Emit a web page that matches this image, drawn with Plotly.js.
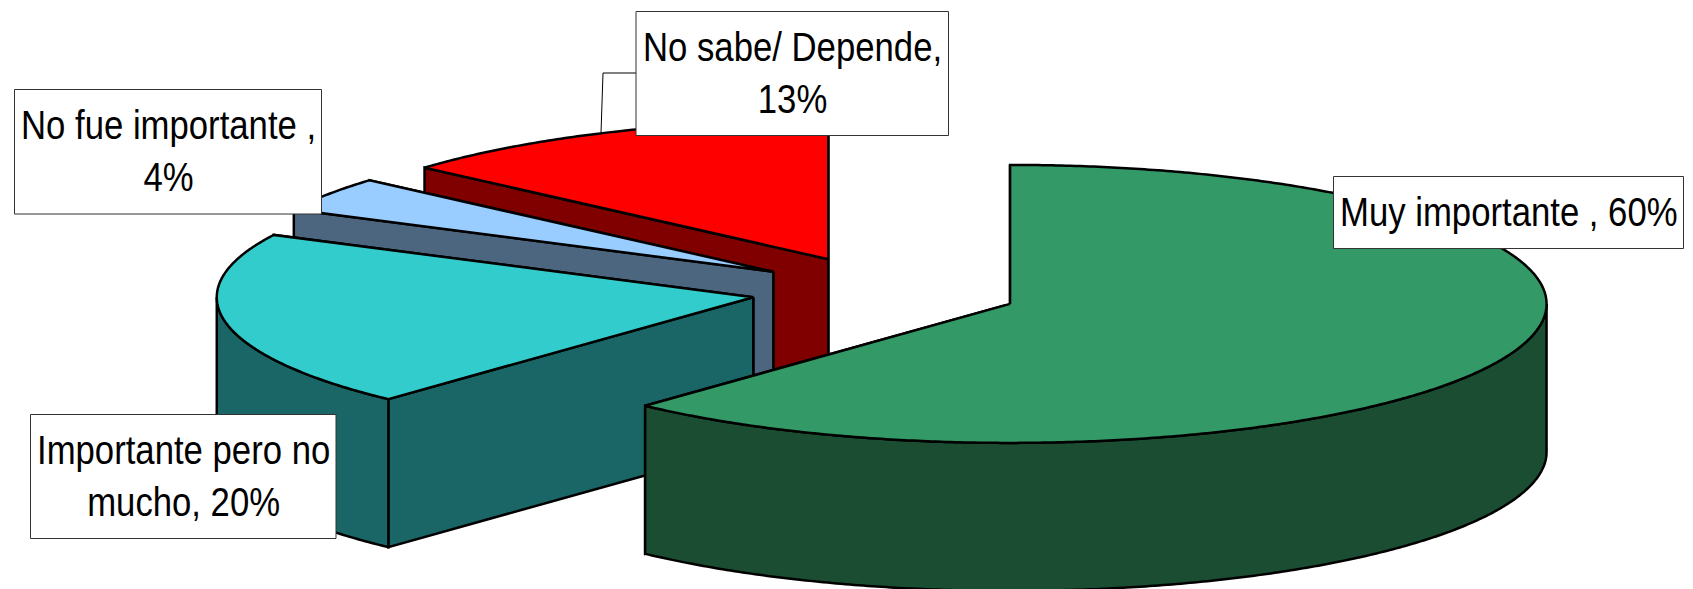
<!DOCTYPE html>
<html><head><meta charset="utf-8">
<script src="https://cdn.plot.ly/plotly-3.0.1.min.js"></script>
<style>html,body{margin:0;padding:0;background:#fff}#c{width:1693px;height:589px}
.annotation-text{transform-box:fill-box;transform-origin:center;transform:scaleX(.868)}</style>
</head><body><div id="c"></div>
<script>
const categories = ["Muy importante", "Importante pero no mucho", "No fue importante", "No sabe/ Depende"];
const values = [59.8, 19.8, 3.9, 13.1];
const explodeShare = [0.252, 0.248, 0.249, 0.252];
const topColors = ["#339966", "#33CCCC", "#99CCFF", "#FF0000"];
const sideColors = ["#1B4D33", "#1A6666", "#4D6680", "#800000"];
const labelTexts = ["Muy importante , 60%", "Importante pero no<br>mucho, 20%", "No fue importante ,<br>4%", "No sabe/ Depende,<br>13%"];

const CX = 884.2, CY = 291.1, RX = 536.5, RY = 139, DEPTH = 148;
const total = values.reduce((a, b) => a + b, 0);
const rad = d => d * Math.PI / 180;

let a0 = 0;
const slices = values.map((v, i) => {
  const a1 = a0 + v / total * 360;
  const mid = rad((a0 + a1) / 2);
  const s = {i, a0, a1, cx: CX + explodeShare[i] * RX * Math.sin(mid), cy: CY - explodeShare[i] * RY * Math.cos(mid)};
  a0 = a1;
  return s;
});
function pt(s, deg, dz) {
  return [s.cx + RX * Math.sin(rad(deg)), s.cy - RY * Math.cos(rad(deg)) + (dz || 0)];
}
function arc(s, from, to, dz) {
  const n = Math.max(2, Math.ceil(Math.abs(to - from) * 2)), out = [];
  for (let k = 0; k <= n; k++) out.push(pt(s, from + (to - from) * k / n, dz));
  return out;
}
function poly(points, fill, name) {
  const p = points.concat([points[0]]);
  return {type: "scatter", mode: "lines", x: p.map(q => q[0]), y: p.map(q => q[1]), fill: "toself",
    fillcolor: fill, line: {color: "#000", width: 2.5, simplify: false}, hoverinfo: "skip", name, showlegend: false};
}
const traces = [];
[3, 2, 1, 0].forEach(i => {
  const s = slices[i], name = categories[i], c = [s.cx, s.cy], cb = [s.cx, s.cy + DEPTH];
  const e0 = pt(s, s.a0), e1 = pt(s, s.a1);
  traces.push(poly([c, e1, pt(s, s.a1, DEPTH), cb], sideColors[i], name));
  traces.push(poly([c, e0, pt(s, s.a0, DEPTH), cb], sideColors[i], name));
  const wf = Math.max(s.a0, 90), wt = Math.min(s.a1, 270);
  if (wt > wf) traces.push(poly(arc(s, wf, wt, 0).concat(arc(s, wt, wf, DEPTH)), sideColors[i], name));
  traces.push(poly([c].concat(arc(s, s.a0, s.a1, 0)), topColors[i], name));
});

// leader of the "No sabe" label
traces.push({type: "scatter", mode: "lines", x: [636, 603, 601], y: [73, 73, 133],
  line: {color: "#000", width: 1}, hoverinfo: "skip", showlegend: false});

const boxes = [
  [1333.5, 176.5, 1683.5, 248.5],
  [30.5, 414.5, 336, 538.5],
  [14.5, 89.5, 321.5, 214],
  [636, 11.5, 948.5, 135.5]
];
const shapes = boxes.map(b => ({type: "rect", layer: "above", xref: "x", yref: "y", x0: b[0], y0: b[1], x1: b[2], y1: b[3],
  fillcolor: "#fff", line: {color: "#333", width: 1}}));
const annotations = boxes.map((b, i) => ({
  xref: "x", yref: "y", x: (b[0] + b[2]) / 2, y: (b[1] + b[3]) / 2, xanchor: "center", yanchor: "middle",
  text: labelTexts[i], showarrow: false, align: "center",
  font: {family: "'Liberation Sans','Arial',sans-serif", size: 40, color: "#000"}
}));

Plotly.newPlot("c", traces, {
  width: 1693, height: 589, margin: {l: 0, r: 0, t: 0, b: 0}, paper_bgcolor: "#fff", plot_bgcolor: "#fff",
  showlegend: false,
  xaxis: {range: [0, 1693], visible: false, fixedrange: true},
  yaxis: {range: [589, 0], visible: false, fixedrange: true},
  shapes, annotations
}, {displayModeBar: false, staticPlot: true});
</script></body></html>
